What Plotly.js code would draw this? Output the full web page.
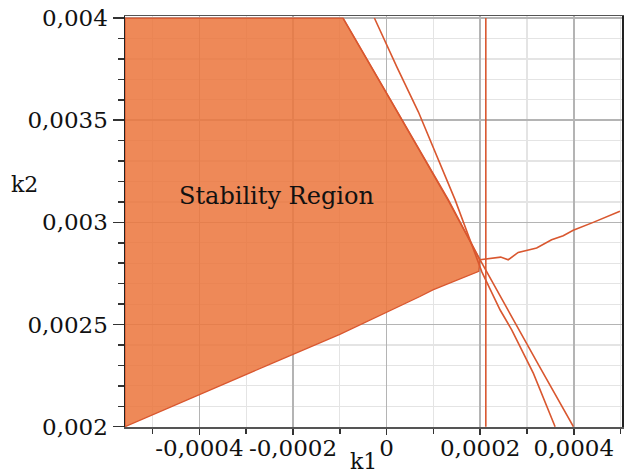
<!DOCTYPE html>
<html>
<head>
<meta charset="utf-8">
<script src="https://cdn.plot.ly/plotly-3.0.1.min.js"></script>
<style>
html,body{margin:0;padding:0;background:#fff;}
#chart{width:625px;height:473px;}
</style>
</head>
<body>
<div id="chart"></div>
<script>
// Stability region polygon (k1, k2)
var regionK1 = [-0.000559, -0.0004, -0.00025, -0.0001, 0.0000284, 0.0000712, 0.0000989, 0.0001353, 0.000197, 0.0001994, 0.000131, 0.0000081, -0.0000934, -0.000559, -0.000559];
var regionK2 = [0.002, 0.002155, 0.002305, 0.002452, 0.002588, 0.002637, 0.00267, 0.002704, 0.00276, 0.002817, 0.00311, 0.0036, 0.004, 0.004, 0.002];

// Boundary curve A (ends near k1 = 0.00036)
var lineAK1 = [-0.0000261, 0.0000218, 0.000068, 0.0001464, 0.0002035, 0.0002426, 0.0002676, 0.0003137, 0.0003601];
var lineAK2 = [0.004, 0.003761, 0.00354, 0.00311, 0.002758, 0.002571, 0.002473, 0.002261, 0.002];

// Boundary curve B (ends near k1 = 0.0004)
var lineBK1 = [-0.000093, 0.0000085, 0.0001314, 0.0001998, 0.0002372, 0.0002826, 0.0003253, 0.0003992];
var lineBK2 = [0.004, 0.0036, 0.003112, 0.002816, 0.00266, 0.002473, 0.0023, 0.002];

// Boundary curve C (rising to the right)
var lineCK1 = [0.0001994, 0.0002437, 0.0002599, 0.0002812, 0.0003206, 0.0003526, 0.0003774, 0.0003988, 0.0004415, 0.0004843, 0.0004986];
var lineCK2 = [0.002817, 0.00283, 0.002817, 0.002853, 0.002875, 0.002915, 0.002935, 0.002961, 0.003, 0.003043, 0.003054];

// Vertical boundary
var vLineK1 = [0.000212, 0.000212];
var vLineK2 = [0.002, 0.004];

// Ticks
var xTickVals = [-0.0004, -0.0002, 0, 0.0002, 0.0004];
var xTickLabels = ["-0,0004", "-0,0002", "0", "0,0002", "0,0004"];
var yTickVals = [0.002, 0.0025, 0.003, 0.0035, 0.004];
var yTickLabels = ["0,002", "0,0025", "0,003", "0,0035", "0,004"];

var regionLabel = "Stability Region";
var xTitle = "k1";
var yTitle = "k2";

var lineColor = "#d9572f";
var font = "DejaVu Serif";

var traces = [
  {x: regionK1, y: regionK2, type: "scatter", mode: "lines", fill: "toself",
   fillcolor: "rgba(235,118,60,0.86)", line: {color: lineColor, width: 1.3}, hoverinfo: "skip"},
  {x: lineAK1, y: lineAK2, type: "scatter", mode: "lines", line: {color: lineColor, width: 1.6}},
  {x: lineBK1, y: lineBK2, type: "scatter", mode: "lines", line: {color: lineColor, width: 1.6}},
  {x: lineCK1, y: lineCK2, type: "scatter", mode: "lines", line: {color: lineColor, width: 1.6}},
  {x: vLineK1, y: vLineK2, type: "scatter", mode: "lines", line: {color: lineColor, width: 1.6}}
];

var layout = {
  width: 625, height: 473,
  margin: {l: 125, r: 3, t: 16, b: 46},
  paper_bgcolor: "#fff", plot_bgcolor: "#fff",
  showlegend: false,
  font: {family: font, size: 23, color: "#111"},
  xaxis: {
    range: [-0.000559, 0.000503],
    tickmode: "array", tickvals: xTickVals, ticktext: xTickLabels,
    tickangle: 0, ticklabelstandoff: -6,
    ticks: "outside", ticklen: 6, tickwidth: 1.5, tickcolor: "#333",
    showgrid: true, gridcolor: "#b4b4b4", gridwidth: 1.6,
    zeroline: false,
    showline: true, linecolor: "#555", linewidth: 1.5, mirror: true,
    minor: {dtick: 0.0001, tick0: 0, ticks: "outside", ticklen: 5, tickcolor: "#333", showgrid: true, gridcolor: "#e4e4e4", gridwidth: 1.2},
    tickfont: {family: font, size: 23, color: "#111"}
  },
  yaxis: {
    range: [0.0019985, 0.00401],
    tickmode: "array", tickvals: yTickVals, ticktext: yTickLabels,
    ticks: "outside", ticklen: 11, tickwidth: 1.5, tickcolor: "#333",
    showgrid: true, gridcolor: "#b4b4b4", gridwidth: 1.6,
    zeroline: false,
    showline: true, linecolor: "#222", linewidth: 1.5, mirror: true,
    minor: {dtick: 0.0001, tick0: 0, ticks: "outside", ticklen: 6, tickcolor: "#333", showgrid: true, gridcolor: "#e4e4e4", gridwidth: 1.2},
    tickfont: {family: font, size: 23, color: "#111"}
  },
  annotations: [
    {text: regionLabel, x: -0.000236, y: 0.00313, xref: "x", yref: "y", showarrow: false,
     font: {family: font, size: 24, color: "#111"}, xanchor: "center", yanchor: "middle"},
    {text: yTitle, x: -0.203, y: 0.589, xref: "paper", yref: "paper", showarrow: false,
     font: {family: font, size: 22, color: "#111"}, xanchor: "center", yanchor: "middle"},
    {text: xTitle, x: 0.479, y: -0.085, xref: "paper", yref: "paper", showarrow: false,
     font: {family: font, size: 22, color: "#111"}, xanchor: "center", yanchor: "middle"}
  ]
};

Plotly.newPlot("chart", traces, layout, {staticPlot: true, displayModeBar: false});
</script>
</body>
</html>
